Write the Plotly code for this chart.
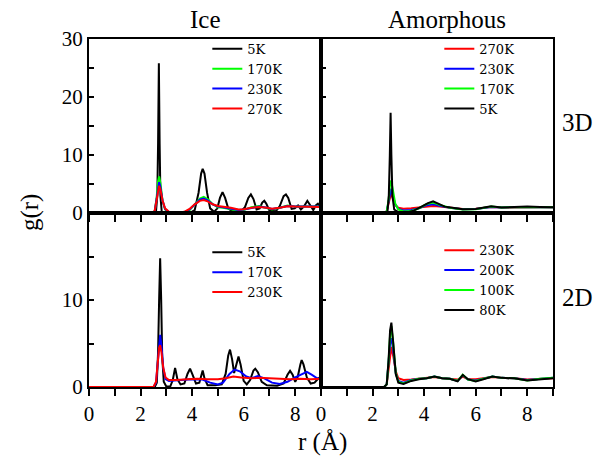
import plotly.graph_objects as go

# ---------------- data ----------------
# Ice, 3D
ice3d_5k_r = [0, 2.50, 2.60, 2.65, 2.68, 2.71, 2.74, 2.77, 2.82, 2.90, 3.9, 4.1, 4.25, 4.35, 4.41, 4.48, 4.58, 4.7, 4.85, 4.98, 5.08, 5.18, 5.28, 5.40, 5.55, 5.90, 6.05, 6.18, 6.28, 6.38, 6.50, 6.62, 6.72, 6.80, 6.88, 7.00, 7.25, 7.40, 7.55, 7.64, 7.73, 7.86, 7.98, 8.11, 8.22, 8.35, 8.47, 8.58, 8.70, 8.80, 8.88, 9.0]
ice3d_5k_g = [0, 0, 0.3, 3, 12, 25.8, 12, 3, 0.3, 0, 0, 0.5, 3.5, 6.8, 7.6, 6.8, 3.5, 0.8, 0.2, 0.8, 2.6, 3.6, 2.6, 0.8, 0.3, 0.3, 1.0, 2.6, 3.2, 2.4, 0.6, 0.8, 1.8, 2.1, 1.6, 0.4, 0.3, 1.2, 2.9, 3.2, 2.6, 0.7, 0.8, 1.3, 0.6, 1.2, 2.1, 1.3, 0.5, 1.3, 1.6, 0.9]

ice3d_r = [0, 2.45, 2.55, 2.62, 2.68, 2.72, 2.77, 2.85, 2.95, 3.1, 3.4, 3.7, 3.9, 4.1, 4.3, 4.45, 4.6, 4.8, 5.0, 5.2, 5.5, 5.8, 6.0, 6.3, 6.6, 6.9, 7.1, 7.4, 7.7, 8.0, 8.3, 8.6, 9.0]
ice3d_170k_g = [0, 0, 0.3, 2.5, 5.5, 6.3, 5.2, 2.2, 0.6, 0.1, 0, 0.1, 0.5, 1.5, 2.5, 2.8, 2.4, 1.5, 1.0, 0.9, 0.7, 0.4, 0.5, 1.0, 1.2, 0.8, 0.6, 0.9, 1.3, 1.1, 1.1, 1.2, 1.1]
ice3d_230k_g = [0, 0, 0.3, 2.5, 4.7, 5.3, 4.5, 2.2, 0.7, 0.15, 0.02, 0.15, 0.6, 1.5, 2.3, 2.5, 2.2, 1.5, 1.1, 1.0, 0.8, 0.5, 0.6, 0.9, 1.1, 0.9, 0.7, 0.9, 1.2, 1.1, 1.1, 1.1, 1.1]
ice3d_270k_g = [0, 0, 0.4, 2.5, 4.3, 4.7, 4.1, 2.2, 0.8, 0.2, 0.05, 0.2, 0.7, 1.5, 2.1, 2.25, 2.0, 1.5, 1.2, 1.1, 0.9, 0.6, 0.65, 0.9, 1.05, 0.9, 0.75, 0.9, 1.15, 1.1, 1.05, 1.1, 1.05]

# Amorphous, 3D
am3d_r = [0, 2.45, 2.55, 2.62, 2.68, 2.72, 2.78, 2.88, 3.0, 3.2, 3.5, 3.8, 4.1, 4.35, 4.6, 5.0, 5.5, 6.0, 6.6, 7.0, 7.5, 8.0, 8.5, 9.0]
am3d_270k_g = [0, 0, 0.3, 1.5, 3.0, 3.4, 2.6, 1.4, 0.9, 0.75, 0.8, 0.95, 1.15, 1.2, 1.1, 0.9, 0.7, 0.75, 1.05, 0.95, 1.0, 1.0, 1.0, 1.0]
am3d_230k_g = [0, 0, 0.3, 1.8, 3.7, 4.2, 3.2, 1.5, 0.7, 0.45, 0.5, 0.8, 1.35, 1.5, 1.25, 0.9, 0.65, 0.7, 1.05, 0.95, 1.0, 1.05, 1.0, 1.0]
am3d_170k_g = [0, 0, 0.3, 2.2, 5.0, 5.6, 4.2, 1.6, 0.6, 0.25, 0.35, 0.8, 1.55, 1.8, 1.4, 0.9, 0.6, 0.65, 1.1, 0.95, 1.0, 1.05, 1.05, 1.0]
am3d_5k_r = [0, 2.5, 2.58, 2.63, 2.67, 2.70, 2.73, 2.77, 2.84, 3.0, 3.3, 3.6, 3.9, 4.15, 4.35, 4.55, 4.8, 5.1, 5.5, 6.0, 6.6, 7.0, 7.5, 8.0, 8.5, 9.0]
am3d_5k_g = [0, 0, 0.3, 3, 10, 17.3, 10, 3, 0.6, 0.15, 0.05, 0.4, 1.1, 1.7, 2.0, 1.6, 1.1, 0.9, 0.65, 0.7, 1.15, 0.95, 1.05, 1.1, 1.05, 1.0]

# Ice, 2D
ice2d_5k_r = [0, 2.55, 2.63, 2.68, 2.72, 2.76, 2.80, 2.84, 2.90, 3.0, 3.15, 3.25, 3.34, 3.43, 3.55, 3.70, 3.82, 3.92, 4.02, 4.15, 4.28, 4.36, 4.41, 4.48, 4.6, 4.9, 5.15, 5.30, 5.40, 5.47, 5.55, 5.63, 5.70, 5.80, 5.88, 6.00, 6.12, 6.25, 6.38, 6.45, 6.55, 6.70, 6.90, 7.30, 7.55, 7.70, 7.80, 7.90, 8.00, 8.10, 8.20, 8.25, 8.32, 8.45, 8.60, 8.75, 8.90, 9.0]
ice2d_5k_g = [0, 0, 0.5, 4, 10, 14.8, 10, 3.5, 0.6, 0.05, 0.05, 0.8, 2.2, 0.9, 0.3, 0.4, 1.5, 2.1, 1.4, 0.4, 0.5, 1.6, 1.9, 1.0, 0.2, 0.2, 0.3, 1.5, 3.6, 4.3, 3.2, 1.6, 2.4, 3.5, 2.6, 0.7, 0.3, 0.8, 1.9, 2.1, 1.7, 0.6, 0.2, 0.15, 0.4, 1.4, 1.85, 1.4, 0.6, 1.2, 2.6, 3.1, 2.6, 1.1, 0.4, 0.5, 1.0, 0.7]
ice2d_170k_r = [0, 2.5, 2.6, 2.67, 2.72, 2.76, 2.81, 2.88, 2.97, 3.1, 3.3, 3.6, 4.0, 4.4, 4.7, 5.0, 5.2, 5.45, 5.65, 5.85, 6.1, 6.3, 6.55, 6.8, 7.1, 7.4, 7.7, 8.0, 8.25, 8.45, 8.65, 8.85, 9.0]
ice2d_170k_g = [0, 0, 0.5, 3.0, 5.3, 6.0, 4.8, 2.2, 0.9, 0.7, 0.75, 0.85, 0.9, 0.85, 0.5, 0.3, 0.5, 1.5, 2.0, 1.8, 1.2, 1.0, 1.25, 1.0, 0.5, 0.35, 0.6, 1.1, 1.5, 1.75, 1.4, 1.0, 0.9]
ice2d_230k_r = [0, 2.5, 2.6, 2.67, 2.72, 2.76, 2.81, 2.88, 2.97, 3.1, 3.4, 3.8, 4.2, 4.6, 5.0, 5.3, 5.6, 5.9, 6.3, 6.6, 7.0, 7.4, 7.8, 8.2, 8.6, 9.0]
ice2d_230k_g = [0, 0, 0.6, 3.0, 4.5, 4.8, 4.0, 2.2, 1.1, 0.8, 0.8, 0.9, 0.95, 0.9, 0.9, 1.0, 1.2, 1.1, 1.0, 1.05, 1.0, 0.9, 0.9, 0.95, 0.9, 0.95]

# Amorphous, 2D
am2d_r = [0, 2.45, 2.55, 2.62, 2.68, 2.73, 2.80, 2.90, 3.0, 3.2, 3.5, 3.8, 4.1, 4.4, 4.7, 5.0, 5.3, 5.5, 5.7, 6.0, 6.3, 6.65, 7.0, 7.5, 8.0, 8.5, 9.0]
am2d_230k_g = [0, 0, 0.3, 2.2, 4.0, 4.6, 3.6, 1.8, 1.0, 0.8, 0.85, 0.95, 1.0, 1.15, 1.0, 0.95, 0.85, 1.2, 0.9, 0.9, 1.0, 1.15, 1.05, 1.0, 0.85, 0.95, 1.0]
am2d_200k_g = [0, 0, 0.3, 2.6, 5.0, 5.6, 4.3, 1.6, 0.7, 0.5, 0.8, 0.95, 1.0, 1.2, 1.0, 0.95, 0.7, 1.35, 0.85, 0.75, 0.95, 1.2, 1.05, 1.0, 0.8, 0.95, 1.05]
am2d_100k_g = [0, 0, 0.3, 2.8, 6.0, 7.0, 5.0, 1.6, 0.6, 0.4, 0.75, 0.95, 1.0, 1.2, 1.0, 0.95, 0.7, 1.4, 0.85, 0.7, 0.95, 1.2, 1.05, 1.0, 0.75, 0.95, 1.05]
am2d_80k_g = [0, 0, 0.3, 3.0, 6.5, 7.4, 5.2, 1.5, 0.5, 0.35, 0.7, 0.9, 1.0, 1.2, 1.0, 0.95, 0.65, 1.4, 0.9, 0.65, 0.9, 1.2, 1.05, 1.0, 0.75, 0.9, 1.0]

x_ticks = [0, 2, 4, 6, 8]
top_y_ticks = [0, 10, 20, 30]
bottom_y_ticks = [0, 10]

BLACK, GREEN, BLUE, RED = "#000000", "#00ff00", "#0000ff", "#ff0000"
FONT = "Liberation Serif, DejaVu Serif, Times New Roman, serif"
LEGFONT = "DejaVu Serif"

fig = go.Figure()

def add(x, y, name, color, xa, ya, leg):
    fig.add_trace(go.Scatter(x=x, y=y, mode="lines", name=name,
                             line=dict(color=color, width=2),
                             xaxis=xa, yaxis=ya, legend=leg))

# top-left: Ice 3D
add(ice3d_5k_r, ice3d_5k_g, "5K", BLACK, "x", "y", "legend")
add(ice3d_r, ice3d_170k_g, "170K", GREEN, "x", "y", "legend")
add(ice3d_r, ice3d_230k_g, "230K", BLUE, "x", "y", "legend")
add(ice3d_r, ice3d_270k_g, "270K", RED, "x", "y", "legend")
# top-right: Amorphous 3D
add(am3d_r, am3d_270k_g, "270K", RED, "x2", "y2", "legend2")
add(am3d_r, am3d_230k_g, "230K", BLUE, "x2", "y2", "legend2")
add(am3d_r, am3d_170k_g, "170K", GREEN, "x2", "y2", "legend2")
add(am3d_5k_r, am3d_5k_g, "5K", BLACK, "x2", "y2", "legend2")
# bottom-left: Ice 2D
add(ice2d_5k_r, ice2d_5k_g, "5K", BLACK, "x3", "y3", "legend3")
add(ice2d_170k_r, ice2d_170k_g, "170K", BLUE, "x3", "y3", "legend3")
add(ice2d_230k_r, ice2d_230k_g, "230K", RED, "x3", "y3", "legend3")
# bottom-right: Amorphous 2D
add(am2d_r, am2d_230k_g, "230K", RED, "x4", "y4", "legend4")
add(am2d_r, am2d_200k_g, "200K", BLUE, "x4", "y4", "legend4")
add(am2d_r, am2d_100k_g, "100K", GREEN, "x4", "y4", "legend4")
add(am2d_r, am2d_80k_g, "80K", BLACK, "x4", "y4", "legend4")

tickfont = dict(family=FONT, size=21, color="black")

def xax(domain, anchor, labels):
    return dict(domain=domain, anchor=anchor, range=[0, 9], showline=True, mirror=True,
                linecolor="black", linewidth=2, showgrid=False, zeroline=False,
                ticks="outside", ticklen=7, tickwidth=1.5, tickcolor="black",
                tickvals=x_ticks, showticklabels=labels, tickfont=tickfont,
                minor=dict(dtick=1, ticks="outside", ticklen=7, tickwidth=1.5, tickcolor="black"))

def yax(domain, anchor, rng, vals, labels):
    return dict(domain=domain, anchor=anchor, range=rng, showline=True, mirror=True,
                linecolor="black", linewidth=2, showgrid=False, zeroline=False,
                ticks="inside", ticklen=5, tickwidth=1.5, tickcolor="black",
                tickvals=vals, showticklabels=labels, tickfont=tickfont,
                minor=dict(dtick=5, ticks="inside", ticklen=5, tickwidth=1.5, tickcolor="black"))

legfont = dict(family=LEGFONT, size=13, color="black")
def leg(xp, yp):
    return dict(x=xp, y=yp, xanchor="left", yanchor="top", xref="paper", yref="paper",
                bgcolor="rgba(0,0,0,0)", borderwidth=0, font=legfont,
                itemwidth=30, tracegroupgap=0)

fig.update_layout(
    width=604, height=463,
    margin=dict(l=89, r=51, t=39, b=76),
    font=dict(family=FONT, color="black"),
    paper_bgcolor="white", plot_bgcolor="white",
    showlegend=True,
    xaxis=xax([0, 0.5], "y", False),
    yaxis=yax([0.5, 1], "x", [0, 30], top_y_ticks, True),
    xaxis2=xax([0.5, 1], "y2", False),
    yaxis2=yax([0.5, 1], "x2", [0, 30], top_y_ticks, False),
    xaxis3=xax([0, 0.5], "y3", True),
    yaxis3=yax([0, 0.5], "x3", [0, 20], bottom_y_ticks, True),
    xaxis4=xax([0.5, 1], "y4", True),
    yaxis4=yax([0, 0.5], "x4", [0, 20], bottom_y_ticks, False),
    legend=leg(0.255, 1.015),
    legend2=leg(0.755, 1.015),
    legend3=leg(0.255, 0.43),
    legend4=leg(0.755, 0.436),
)

ann = dict(xref="paper", yref="paper", showarrow=False, font=dict(family=FONT, size=25, color="black"))
fig.add_annotation(text="Ice", x=0.25, y=1.055, xanchor="center", yanchor="middle", **ann)
fig.add_annotation(text="Amorphous", x=0.772, y=1.055, xanchor="center", yanchor="middle", **ann)
fig.add_annotation(text="3D", x=1.052, y=0.759, xanchor="center", yanchor="middle", **ann)
fig.add_annotation(text="2D", x=1.052, y=0.256, xanchor="center", yanchor="middle", **ann)
fig.add_annotation(text="g(r)", x=-0.127, y=0.5, xanchor="center", yanchor="middle", textangle=-90, **ann)
fig.add_annotation(text="r (Å)", x=0.503, y=-0.158, xanchor="center", yanchor="middle", **ann)

fig.write_html("out.html", config={"displayModeBar": False},
               post_script="document.body.style.margin='0px';")
